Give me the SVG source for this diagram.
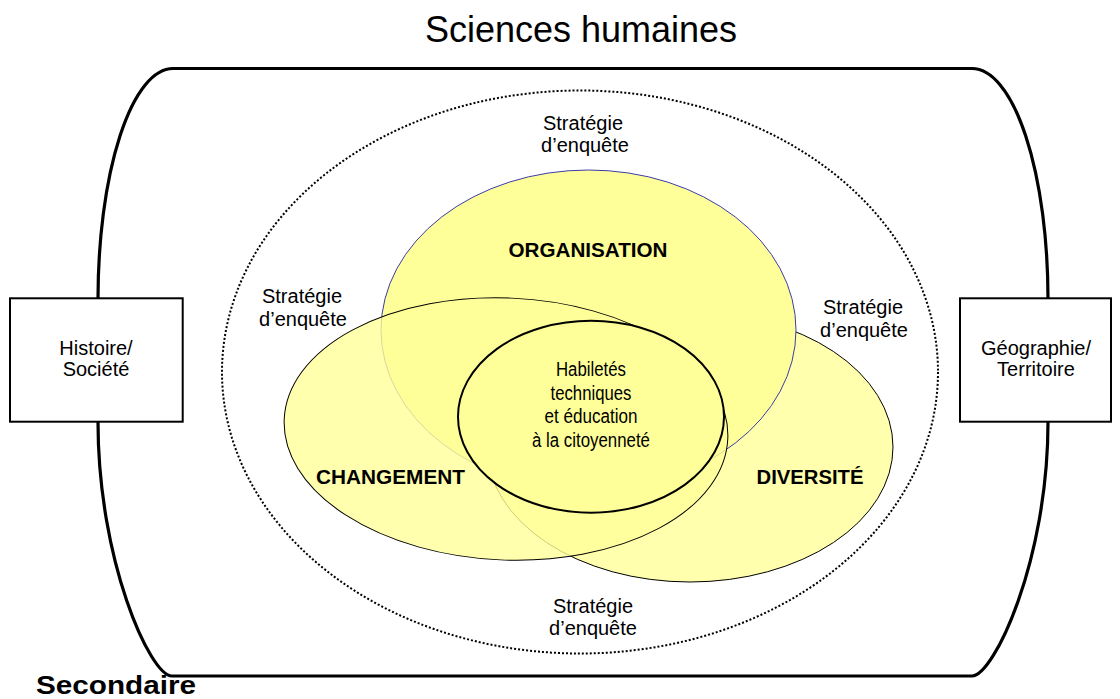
<svg xmlns="http://www.w3.org/2000/svg" width="1120" height="699" viewBox="0 0 1120 699">
<style>
text{font-family:"Liberation Sans",Arial,sans-serif;fill:#000}
.t{font-size:20px;text-anchor:middle}
.b{font-size:20.5px;font-weight:bold;text-anchor:middle}
.soft{fill:#ffff99;fill-opacity:0.8;stroke:#000;stroke-width:1}
.box{fill:#fff;stroke:#000;stroke-width:2}
</style>
<rect width="1120" height="699" fill="#fff"/>
<g id="title"><text x="581" y="42" style="font-size:36px;text-anchor:middle">Sciences humaines</text></g>
<g id="connectors">
<path id="frame" d="M173,68.5 H972 A76,230.5 0 0 1 1048,299 V422 C1048,560 994,676 972,676 H172 C150,676 98,560 98,422 V299 A75,230.5 0 0 1 173,68.5 Z" fill="none" stroke="#000" stroke-width="3.2"/>
</g>
<g id="strategie-zone">
<ellipse cx="580" cy="372" rx="358" ry="281.5" fill="none" stroke="#000" stroke-width="2" stroke-dasharray="2 2"/>
<text class="t" x="583" y="130">Stratégie</text><text class="t" x="585" y="152">d’enquête</text>
<text class="t" x="302" y="303">Stratégie</text><text class="t" x="303" y="326">d’enquête</text>
<text class="t" x="863" y="314">Stratégie</text><text class="t" x="864" y="337">d’enquête</text>
<text class="t" x="593" y="613">Stratégie</text><text class="t" x="593" y="635">d’enquête</text>
</g>
<g id="diversite">
<ellipse class="soft" cx="690" cy="447" rx="203" ry="135"/>
<text class="b" x="810" y="484" textLength="107" lengthAdjust="spacingAndGlyphs">DIVERSITÉ</text>
</g>
<g id="organisation">
<ellipse cx="588.5" cy="330" rx="207.5" ry="160" fill="#ffff99" stroke="#3c3ca8" stroke-width="1"/>
<text class="b" x="588" y="257" textLength="159" lengthAdjust="spacingAndGlyphs">ORGANISATION</text>
</g>
<g id="changement">
<ellipse class="soft" cx="506" cy="429" rx="222" ry="131" transform="rotate(2.5 506 429)"/>
<text class="b" x="390.5" y="484" textLength="149" lengthAdjust="spacingAndGlyphs">CHANGEMENT</text>
</g>
<g id="habiletes">
<ellipse cx="591" cy="416.7" rx="133" ry="96" fill="#ffff99" stroke="#000" stroke-width="2"/>
<text class="t" x="591" y="376" textLength="70" lengthAdjust="spacingAndGlyphs">Habiletés</text>
<text class="t" x="591" y="400" textLength="81" lengthAdjust="spacingAndGlyphs">techniques</text>
<text class="t" x="591" y="423" textLength="93" lengthAdjust="spacingAndGlyphs">et éducation</text>
<text class="t" x="591" y="447" textLength="118" lengthAdjust="spacingAndGlyphs">à la citoyenneté</text>
</g>
<g id="histoire">
<rect class="box" x="10" y="298.3" width="172.7" height="123.4"/>
<text class="t" x="96" y="355">Histoire/</text>
<text class="t" x="96" y="376">Société</text>
</g>
<g id="geographie">
<rect class="box" x="960" y="298.3" width="151" height="123.4"/>
<text class="t" x="1036" y="355">Géographie/</text>
<text class="t" x="1036" y="376">Territoire</text>
</g>
<g id="niveau"><text x="36" y="694" style="font-size:25px;font-weight:bold" textLength="160" lengthAdjust="spacingAndGlyphs">Secondaire</text></g>
</svg>
